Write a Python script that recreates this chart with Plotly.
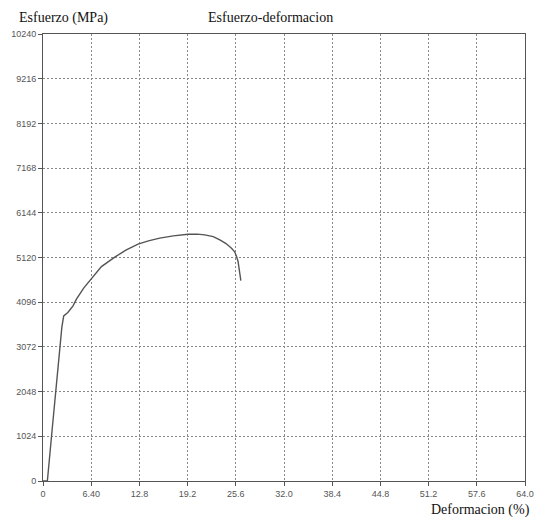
import plotly.graph_objects as go

# Stress-strain curve samples: strain (%) and stress (MPa)
deformacion = [0.0, 0.58, 1.2, 1.9, 2.5, 2.75, 3.3, 3.99, 4.44, 5.4, 6.43, 7.76,
               9.53, 11.0, 12.62, 14.0, 15.5, 17.3, 19.26, 20.5, 21.48, 22.6,
               23.48, 24.3, 25.03, 25.45, 25.7, 25.9, 26.0, 26.15, 26.27]
esfuerzo = [0, 0, 1150, 2420, 3520, 3782, 3860, 4011, 4165, 4420, 4646, 4911,
            5127, 5290, 5425, 5500, 5563, 5615, 5654, 5655, 5638, 5600,
            5524, 5440, 5333, 5250, 5141, 5030, 4912, 4760, 4591]

x_ticks = [0, 6.4, 12.8, 19.2, 25.6, 32.0, 38.4, 44.8, 51.2, 57.6, 64.0]
x_ticktext = ["0", "6.40", "12.8", "19.2", "25.6", "32.0", "38.4", "44.8",
              "51.2", "57.6", "64.0"]
y_ticks = [0, 1024, 2048, 3072, 4096, 5120, 6144, 7168, 8192, 9216, 10240]

fig = go.Figure()
fig.add_trace(go.Scatter(
    x=deformacion, y=esfuerzo, mode="lines",
    line=dict(color="#555555", width=1.4),
    hoverinfo="skip", showlegend=False,
))

tick_font = dict(family="Liberation Sans, Arial, sans-serif", size=9, color="#555555")
axis_common = dict(
    showline=True, linecolor="#555555", linewidth=1, mirror=True,
    showgrid=True, gridcolor="#888888", gridwidth=1, griddash="2px,2px",
    zeroline=False, ticks="outside", ticklen=4, tickcolor="#555555",
    tickfont=tick_font,
)

fig.update_xaxes(range=[0, 64], tickvals=x_ticks, ticktext=x_ticktext, **axis_common)
fig.update_yaxes(range=[0, 10240], tickvals=y_ticks,
                 ticktext=[str(v) for v in y_ticks], **axis_common)

serif = dict(family="Liberation Serif, Times New Roman, serif", size=14, color="#111111")
fig.update_layout(
    width=536, height=517,
    margin=dict(l=43, r=11, t=34, b=36, autoexpand=False),
    paper_bgcolor="white", plot_bgcolor="white",
    annotations=[
        dict(text="Esfuerzo-deformacion", xref="paper", yref="paper",
             x=0.4727, y=1.0365, xanchor="center", yanchor="middle",
             showarrow=False, font=serif),
        dict(text="Esfuerzo (MPa)", xref="paper", yref="paper",
             x=-0.0546, y=1.0365, xanchor="left", yanchor="middle",
             showarrow=False, font=serif),
        dict(text="Deformacion (%)", xref="paper", yref="paper",
             x=1.0145, y=-0.0645, xanchor="right", yanchor="middle",
             showarrow=False, font=serif),
    ],
)

fig.write_html("out.html")
